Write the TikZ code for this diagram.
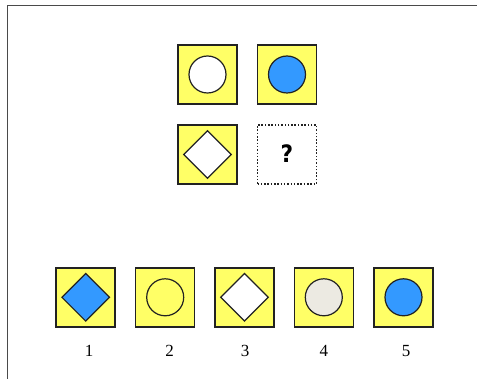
\documentclass[tikz,border=0pt]{standalone}
\usepackage{fontspec}
\setmainfont{Liberation Serif}
\newfontfamily\qfont{DejaVu Sans Condensed Bold}
\definecolor{cellyellow}{HTML}{FFFF66}
\definecolor{shapeblue}{HTML}{3399FF}
\definecolor{shapegray}{HTML}{ECEAE2}
\definecolor{framegray}{HTML}{4A4A4A}
\definecolor{edgegray}{HTML}{222222}
\tikzset{
  cell/.style={draw=edgegray, line width=1.5pt, fill=cellyellow, minimum size=59pt, inner sep=0pt, outer sep=0pt},
  qcell/.style={draw=edgegray, line width=1.5pt, dash pattern=on 1.5pt off 1.8pt, minimum size=59pt, inner sep=0pt},
  circ/.style={circle, draw=edgegray, line width=1.2pt, minimum size=37pt, inner sep=0pt},
  dia/.style={diamond, draw=edgegray, line width=1.2pt, minimum size=48pt, inner sep=0pt},
  lab/.style={font=\fontsize{17}{20}\selectfont, inner sep=0pt}
}
\usetikzlibrary{shapes.geometric}
\begin{document}
\begin{tikzpicture}[x=1pt,y=-1pt]
\useasboundingbox (0,0) rectangle (477,379);
\draw[framegray, line width=1.8pt] (7.5,379) -- (7.5,5.5) -- (477,5.5);
% top grid
\node[cell] (a) at (207.5,74.5) {};
\node[cell] (b) at (287,74.5) {};
\node[cell] (c) at (207.5,154.5) {};
\node[qcell] (d) at (287,154.5) {};
\node[circ, fill=white] (ac) at (a.center) {};
\node[circ, fill=shapeblue] (bc) at (b.center) {};
\node[dia, fill=white] (cd) at (c.center) {};
\node[font=\qfont\fontsize{24}{28}\selectfont, inner sep=0pt] (q) at (287,154) {?};
% options
\node[cell] (o1) at (85.7,297.3) {};
\node[cell] (o2) at (165.2,297.3) {};
\node[cell] (o3) at (244.5,297.3) {};
\node[cell] (o4) at (323.8,297.3) {};
\node[cell] (o5) at (403.5,297.3) {};
\node[dia, fill=shapeblue] (s1) at (o1.center) {};
\node[circ, fill=cellyellow] (s2) at (o2.center) {};
\node[dia, fill=white] (s3) at (o3.center) {};
\node[circ, fill=shapegray] (s4) at (o4.center) {};
\node[circ, fill=shapeblue] (s5) at (o5.center) {};
\node[lab] (l1) at (89,351) {1};
\node[lab] (l2) at (169.5,351) {2};
\node[lab] (l3) at (245,351) {3};
\node[lab] (l4) at (323.8,351) {4};
\node[lab] (l5) at (406,351) {5};
\end{tikzpicture}
\end{document}
